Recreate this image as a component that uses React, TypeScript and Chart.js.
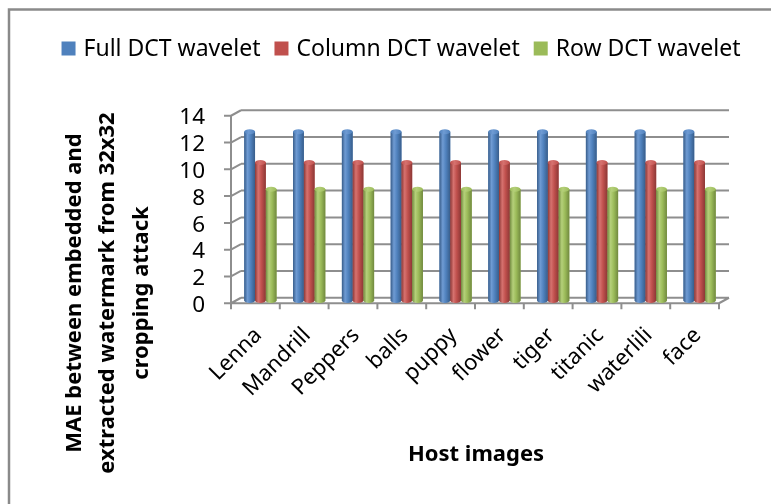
import React, { useEffect, useRef } from "react";
import { Chart, registerables } from "chart.js";

Chart.register(...registerables);

const categories = ["Lenna", "Mandrill", "Peppers", "balls", "puppy", "flower", "tiger", "titanic", "waterlili", "face"];
const fullDctValues = [12.6, 12.6, 12.6, 12.6, 12.6, 12.6, 12.6, 12.6, 12.6, 12.6];
const columnDctValues = [10.3, 10.3, 10.3, 10.3, 10.3, 10.3, 10.3, 10.3, 10.3, 10.3];
const rowDctValues = [8.3, 8.3, 8.3, 8.3, 8.3, 8.3, 8.3, 8.3, 8.3, 8.3];
const seriesNames = ["Full DCT wavelet", "Column DCT wavelet", "Row DCT wavelet"];
const yTickValues = [0, 2, 4, 6, 8, 10, 12, 14];
const yTitleLines = ["MAE between embedded and", "extracted watermark from 32x32", "cropping attack"];
const xTitle = "Host images";

const FONT = "'Noto Sans', 'Open Sans', sans-serif";
const seriesColors = ["#4F81BD", "#C0504D", "#9BBB59"];
const seriesDark = ["#385D8A", "#8C3836", "#71893F"];
const seriesLight = ["#6F9BD3", "#D6726F", "#B5D07A"];
const GRID = "#8E8E8E";
const DX = 5;
const DY = 2.75;

const threeDPlugin = {
  id: "threeD",
  beforeDraw(chart: any) {
    const ctx = chart.ctx;
    ctx.save();
    ctx.fillStyle = "#ffffff";
    ctx.fillRect(0, 0, chart.width, chart.height);
    ctx.strokeStyle = "#8A8A8A";
    ctx.lineWidth = 2.5;
    ctx.strokeRect(9, 9.5, chart.width + 20, chart.height + 20);
    ctx.restore();
  },
  beforeDatasetsDraw(chart: any) {
    const ctx = chart.ctx;
    const { left, right } = chart.chartArea;
    const y = chart.scales.y;
    const x = chart.scales.x;
    ctx.save();
    ctx.strokeStyle = GRID;
    ctx.lineWidth = 2;
    ctx.lineCap = "butt";
    const y0 = y.getPixelForValue(0);
    const yTop = y.getPixelForValue(yTickValues[yTickValues.length - 1]);
    ctx.beginPath();
    for (const v of yTickValues) {
      const py = y.getPixelForValue(v);
      ctx.moveTo(left + DX, py - DY);
      ctx.lineTo(right + DX, py - DY);
      ctx.moveTo(left - DX, py + DY);
      ctx.lineTo(left + DX, py - DY);
      ctx.moveTo(left - DX - 7, py + DY);
      ctx.lineTo(left - DX, py + DY);
    }
    ctx.moveTo(left - DX, y0 + DY);
    ctx.lineTo(left - DX, yTop + DY);
    ctx.moveTo(left - DX, y0 + DY);
    ctx.lineTo(right - DX, y0 + DY);
    ctx.moveTo(right - DX, y0 + DY);
    ctx.lineTo(right + DX, y0 - DY);
    const n = categories.length;
    const step = (right - left) / n;
    for (let i = 0; i <= n; i++) {
      const px = i < n ? x.getPixelForValue(i) - step / 2 : x.getPixelForValue(n - 1) + step / 2;
      ctx.moveTo(px - DX, y0 + DY);
      ctx.lineTo(px - DX, y0 + DY + 6);
    }
    ctx.stroke();
    ctx.restore();
  },
  afterDatasetsDraw(chart: any) {
    const ctx = chart.ctx;
    ctx.save();
    chart.data.datasets.forEach((ds: any, di: number) => {
      const meta = chart.getDatasetMeta(di);
      meta.data.forEach((el: any) => {
        const { x, y, base, width } = el.getProps(["x", "y", "base", "width"], true);
        const l = x - width / 2;
        const r = x + width / 2;
        const ry = 2.5;
        const g = ctx.createLinearGradient(l, 0, r, 0);
        g.addColorStop(0, seriesDark[di]);
        g.addColorStop(0.3, seriesLight[di]);
        g.addColorStop(0.6, seriesColors[di]);
        g.addColorStop(1, seriesDark[di]);
        ctx.fillStyle = g;
        ctx.beginPath();
        ctx.ellipse(x, base, width / 2, ry, 0, 0, Math.PI * 2);
        ctx.fill();
        ctx.fillRect(l, y, width, base - y);
        const gc = ctx.createLinearGradient(l, 0, r, 0);
        gc.addColorStop(0, seriesColors[di]);
        gc.addColorStop(0.4, seriesLight[di]);
        gc.addColorStop(1, seriesColors[di]);
        ctx.fillStyle = gc;
        ctx.beginPath();
        ctx.ellipse(x, y, width / 2, ry, 0, 0, Math.PI * 2);
        ctx.fill();
      });
    });
    ctx.restore();
  },
  afterDraw(chart: any) {
    const ctx = chart.ctx;
    ctx.save();
    ctx.font = `23px ${FONT}`;
    ctx.textBaseline = "middle";
    ctx.textAlign = "left";
    const box = 14;
    const gapText = 8;
    const gapItem = 14;
    const widths = seriesNames.map((s) => ctx.measureText(s).width);
    const total = widths.reduce((a, b) => a + b, 0) + seriesNames.length * (box + gapText) + (seriesNames.length - 1) * gapItem;
    let cx = 401 - total / 2;
    const ly = 48.5;
    seriesNames.forEach((s, i) => {
      ctx.fillStyle = seriesColors[i];
      ctx.fillRect(cx, ly - box / 2, box, box);
      cx += box + gapText;
      ctx.fillStyle = "#000";
      ctx.fillText(s, cx, ly + 1);
      cx += widths[i] + gapItem;
    });
    ctx.font = `bold 22px ${FONT}`;
    ctx.textAlign = "center";
    const xs = [75, 108, 142];
    yTitleLines.forEach((line, i) => {
      ctx.save();
      ctx.translate(xs[i], 293);
      ctx.rotate(-Math.PI / 2);
      ctx.fillText(line, 0, 0);
      ctx.restore();
    });
    ctx.fillText(xTitle, 476, 455);
    ctx.restore();
  },
};

export default function App() {
  const ref = useRef<HTMLCanvasElement>(null);
  useEffect(() => {
    if (!ref.current) return;
    const chart = new Chart(ref.current, {
      type: "bar",
      data: {
        labels: categories,
        datasets: [
          { label: seriesNames[0], data: fullDctValues, backgroundColor: seriesColors[0] },
          { label: seriesNames[1], data: columnDctValues, backgroundColor: seriesColors[1] },
          { label: seriesNames[2], data: rowDctValues, backgroundColor: seriesColors[2] },
        ],
      },
      options: {
        responsive: false,
        animation: false,
        devicePixelRatio: 1,
        layout: { padding: { left: 0, right: 47, top: 113, bottom: 0 } },
        datasets: { bar: { categoryPercentage: 0.66, barPercentage: 1 } },
        plugins: { legend: { display: false }, title: { display: false }, tooltip: { enabled: false } },
        scales: {
          x: {
            grid: { display: false, drawTicks: false },
            border: { display: false },
            ticks: {
              font: { family: FONT, size: 22 },
              color: "#000",
              autoSkip: false,
              minRotation: 45,
              maxRotation: 45,
              padding: 22,
              labelOffset: -2,
            },
            afterFit: (s: any) => {
              s.height = 203.5;
            },
          },
          y: {
            min: 0,
            max: 14,
            grid: { display: false, drawTicks: false },
            border: { display: false },
            ticks: {
              stepSize: 2,
              autoSkip: false,
              font: { family: FONT, size: 22.5 },
              color: "#000",
              padding: 31,
              labelOffset: 5,
            },
            afterFit: (s: any) => {
              s.width = 236;
            },
          },
        },
      },
      plugins: [threeDPlugin],
    });
    return () => chart.destroy();
  }, []);
  return (
    <div style={{ position: "absolute", left: 0, top: 0, width: 771, height: 504 }}>
      <canvas ref={ref} width={771} height={504} style={{ display: "block", width: 771, height: 504 }} />
    </div>
  );
}
